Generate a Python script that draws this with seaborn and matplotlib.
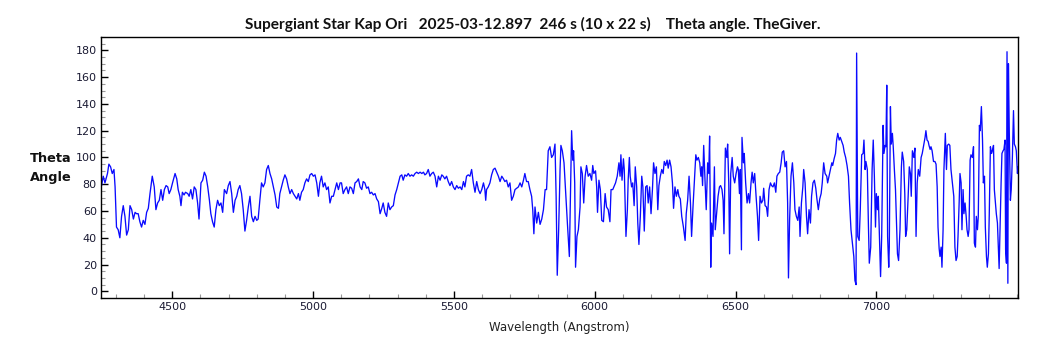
import numpy as np
import pandas as pd
import seaborn as sns
import matplotlib
matplotlib.use("Agg")
import matplotlib.pyplot as plt
from matplotlib.ticker import MultipleLocator

# ---------------- data ----------------
seg1_wl = [4249,4255,4261,4270,4275,4281,4287,4293,4297,4302,4308,4314,4320,4326,4332,4338,4344,4350,4356,4362,
           4368,4373,4379,4385,4391,4397,4403,4409,4415,4421,4429,4436,4442,4448,4454,4460,4466,4472,4478,4484,
           4489,4495,4501,4510,4516,4521,4527,4531,4536,4542,4547,4555,4560,4566,4572,4578,4584,4590,4595,4602,
           4608,4614,4620,4626,4632,4637,4643,4649,4655,4661,4667,4673,4679,4685]
seg1_theta = [79,86,81,88,95,93,88,91,78,48,46,40,56,64,56,42,46,64,61,54,
              59,58,58,52,48,53,50,59,62,73,86,78,61,66,68,76,68,76,79,78,
              73,76,81,88,84,76,71,64,74,72,74,73,71,76,69,78,76,66,54,81,
              83,89,86,78,68,58,52,48,61,68,64,66,59,76]

seg2_wl = [4693,4699,4705,4711,4717,4723,4729,4734,4740,4746,4752,4758,4764,4770,4776,4782,4788,4794,4800,4805,
           4811,4817,4823,4829,4835,4841,4847,4853,4859,4865,4871,4877,4882,4888,4894,4900,4906,4912,4918,4924,
           4930,4936,4942,4948,4953,4959,4965,4971,4977,4983,4989,4995,5001,5007,5013,5019,5024,5030,5036,5042,
           5048,5054,5060,5066,5072,5078,5084,5090,5096,5101,5107]
seg2_theta = [73,79,82,73,59,68,71,76,79,73,61,45,53,63,71,56,52,56,53,54,
              68,81,78,81,91,94,88,84,78,72,63,62,73,78,83,87,84,78,73,76,
              73,71,69,73,68,74,76,81,84,82,87,88,86,87,81,71,81,86,78,81,
              76,78,66,71,71,76,81,76,81,81,73]

seg3_wl = [5113,5119,5125,5131,5137,5143,5149,5155,5161,5167,5173,5178,5184,5190,5196,5202,5208,5214,5220,5226,
           5232,5238,5244,5249,5255,5261,5267,5273,5279,5285,5291,5297,5303,5309,5315,5320,5326,5332,5338,5344,
           5350,5356,5362,5368,5374,5380,5386,5392,5397,5403,5409,5415,5421,5427,5433,5439,5445,5451,5457,5462,
           5468,5474,5480,5486,5492,5498,5504,5510,5516,5522,5528,5534]
seg3_theta = [76,78,73,78,77,73,81,82,84,78,76,82,81,77,78,73,74,72,73,69,
              67,58,62,66,59,56,66,61,63,64,72,76,81,86,87,83,87,86,88,86,
              87,86,88,89,88,89,88,89,87,88,91,86,88,89,86,78,86,83,87,86,
              84,86,82,79,82,78,76,79,77,78,76,82]

seg4_wl = [5539,5545,5551,5557,5563,5569,5575,5581,5587,5593,5599,5605,5610,5613,5616,5622,5628,5634,5640,5646,
           5652,5658,5664,5670,5676,5681,5687,5693,5699,5705,5711,5717,5723,5729,5735,5741,5747,5752,5758,5764,
           5770,5776,5780,5784,5788,5794,5800,5806,5812,5818,5824,5829,5835,5841,5847,5853,5859,5863,5867,5872,
           5877,5880,5885,5891,5897,5903,5910,5913,5918,5922,5925,5929,5932,5937,5942,5948,5951,5956,5961]
seg4_theta = [78,86,87,86,91,81,74,82,76,73,76,81,76,68,76,78,81,87,91,92,
              89,86,82,86,84,82,83,78,81,68,71,76,77,78,81,78,83,88,82,82,
              76,71,61,43,63,51,59,50,54,61,76,76,105,108,100,102,110,71,12,46,
              91,109,105,96,73,51,26,61,120,98,105,81,18,41,46,63,93,88,66]

seg5_wl = [5966,5971,5977,5983,5989,5993,5997,6003,6007,6010,6015,6020,6025,6031,6037,6042,6048,6054,6058,6064,
           6070,6074,6080,6086,6090,6093,6097,6102,6105,6111,6116,6119,6123,6126,6131,6135,6140,6144,6149,6153,
           6157,6162,6167,6171,6176,6181,6186,6190,6195,6200,6205,6209,6214,6219,6224,6228,6233,6238,6243,6247,
           6252,6257,6261,6266,6271,6276,6280,6285,6290,6295,6299,6304,6309,6315,6321,6325,6330,6335,6340,6344,
           6349,6354,6359,6363,6368,6373,6377,6380,6383,6387]
seg5_theta = [86,94,86,88,83,94,88,90,78,59,83,76,53,52,73,63,61,52,76,76,
              79,81,86,96,86,102,83,99,91,41,61,84,100,86,78,81,64,93,78,51,
              35,56,86,78,45,78,79,66,78,58,76,96,88,93,61,79,86,91,88,97,
              94,98,92,98,93,81,62,78,71,76,71,69,56,48,38,58,68,86,66,41,
              63,83,102,98,100,96,86,93,79,109]

seg6_wl = [6392,6396,6401,6405,6408,6412,6415,6420,6425,6428,6433,6438,6443,6447,6452,6456,6459,6464,6469,6472,
           6476,6479,6483,6488,6492,6497,6502,6507,6510,6514,6517,6521,6523,6528,6531,6536,6541,6546,6550,6555,
           6559,6563,6568,6573,6578,6582,6587,6592,6597,6600,6605,6610,6614,6619,6624,6628,6633,6638,6643,6647,
           6652,6657,6662,6666,6671,6676,6681,6685,6688,6692,6697,6702,6707,6711,6716,6721,6726,6729,6734,6739,
           6742,6747,6752,6756,6761,6766,6770,6775,6780,6785,6789,6794,6799,6804,6808,6813]
seg6_theta = [81,61,96,88,116,18,51,41,93,46,59,71,78,79,76,68,43,107,100,110,
              81,28,88,100,86,81,88,93,91,73,91,31,115,96,103,81,66,73,66,81,
              89,81,88,71,56,38,71,66,68,77,64,63,56,76,81,79,78,81,74,86,
              88,89,96,104,105,93,97,66,10,53,86,96,81,61,56,53,63,41,66,78,
              91,81,56,43,61,51,71,81,83,77,69,61,69,73,81,96]

seg7_wl = [6818,6824,6827,6832,6837,6842,6845,6850,6855,6859,6863,6868,6872,6877,6882,6886,6891,6896,6901,6905,
           6910,6915,6920,6924,6928,6930,6934,6939,6943,6948,6953,6956,6960,6963,6968,6972,6975,6980,6985,6989,
           6993,6997,7000,7004,7007,7012,7015,7019,7024,7027,7031,7034,7037,7040,7044,7046,7050,7053,7057,7060,
           7064,7068,7071,7075,7079,7084,7089,7092,7097,7101,7104,7108,7113,7117,7121,7124,7128,7133,7137,7141,
           7145,7149,7154,7159,7163,7168,7173]
seg7_theta = [88,86,81,86,91,96,94,99,103,113,118,113,115,112,109,104,100,94,86,66,
              46,36,26,8,5,178,41,38,61,102,103,113,91,97,91,48,21,33,91,113,
              86,48,73,61,71,33,11,41,124,103,109,108,154,41,18,33,138,110,118,108,
              91,76,56,28,23,46,93,104,97,73,41,46,71,93,88,71,105,100,107,41,
              81,91,86,100,103,109,115]

seg8_wl = [7176,7180,7184,7187,7191,7194,7198,7203,7208,7212,7216,7219,7223,7226,7230,7233,7237,7240,7245,7249,
           7252,7257,7261,7265,7270,7275,7279,7283,7287,7290,7294,7297,7301,7304,7308,7311,7315,7319,7322,7326,
           7329,7333,7336,7341,7345,7348,7352,7355,7359,7362,7366,7369,7373,7377,7380,7384,7387,7391,7394,7398,
           7401,7405,7409,7412,7416,7419,7423,7426,7430,7433,7436,7439,7443,7446,7450,7453,7457,7459,7462,7464,
           7467,7469,7472,7476,7479,7483,7487,7490,7494,7497,7501,7503]
seg8_theta = [120,113,112,109,106,108,105,97,97,95,78,48,32,26,33,18,46,91,118,91,
              109,110,109,91,81,71,33,23,26,41,66,88,81,46,76,58,66,56,46,41,
              46,98,102,100,108,36,33,56,46,56,124,120,138,113,81,86,48,26,18,28,
              58,108,103,105,109,76,66,58,51,33,17,46,81,103,105,106,113,31,21,179,
              6,170,120,68,76,100,135,110,108,105,88,93]

x_ticks = [4500, 5000, 5500, 6000, 6500, 7000]
y_ticks = [0, 20, 40, 60, 80, 100, 120, 140, 160, 180]
title_text = "Supergiant Star Kap Ori   2025-03-12.897  246 s (10 x 22 s)    Theta angle. TheGiver."
x_label = "Wavelength (Angstrom)"
y_label = "Theta\nAngle"

segments = [(seg1_wl, seg1_theta), (seg2_wl, seg2_theta), (seg3_wl, seg3_theta), (seg4_wl, seg4_theta),
            (seg5_wl, seg5_theta), (seg6_wl, seg6_theta), (seg7_wl, seg7_theta), (seg8_wl, seg8_theta)]
wl_all, th_all = [], []
for w, t in segments:
    n = min(len(w), len(t))
    wl_all += w[:n]
    th_all += t[:n]
df = pd.DataFrame({"wavelength": wl_all, "theta": th_all})

# ---------------- style ----------------
sns.set_theme(style="white")
plt.rcParams["font.family"] = ["DejaVu Sans"]

W, H = 1050, 350
fig = plt.figure(figsize=(W / 100, H / 100), dpi=100)
ax = fig.add_axes([101 / W, 1 - 298 / H, (1018 - 101) / W, (298 - 37) / H])

sns.lineplot(data=df, x="wavelength", y="theta", ax=ax, color="#0a0aff", linewidth=0.95,
             estimator=None, sort=False)

ax.set_xlim(4247, 7503)
ax.set_ylim(-5, 190)
ax.set_xticks(x_ticks)
ax.set_yticks(y_ticks)
ax.xaxis.set_minor_locator(MultipleLocator(100))
ax.yaxis.set_minor_locator(MultipleLocator(5))
tick_col = "#1a1a33"
ax.tick_params(axis="both", which="major", direction="in", length=5, width=1, color="black",
               labelsize=8, labelcolor=tick_col, pad=3)
ax.tick_params(axis="both", which="minor", direction="in", length=3, width=0.8, color="#999999")
ax.tick_params(bottom=True, left=True, top=False, right=False, which="both")
for s in ax.spines.values():
    s.set_color("black")
    s.set_linewidth(1.0)
ax.set_xlabel("")
ax.set_ylabel("")

fig.text(559 / W, 1 - 327 / H, x_label, ha="center", va="center", fontsize=8.5, color="#222222")
fig.text(51 / W, 1 - 168 / H, y_label, ha="center", va="center", fontsize=9.3, fontweight="bold",
         color="#111111", linespacing=1.55)

t = fig.text(533 / W, 1 - 24 / H, title_text, ha="center", va="center", fontsize=11,
             fontweight="bold", family=["Lato", "DejaVu Sans"], color="#111111")
fig.canvas.draw()
wpx = t.get_window_extent().width
t.set_fontsize(min(11 * 577 / wpx, 12))

fig.savefig("out.png", dpi=100, facecolor="white")
